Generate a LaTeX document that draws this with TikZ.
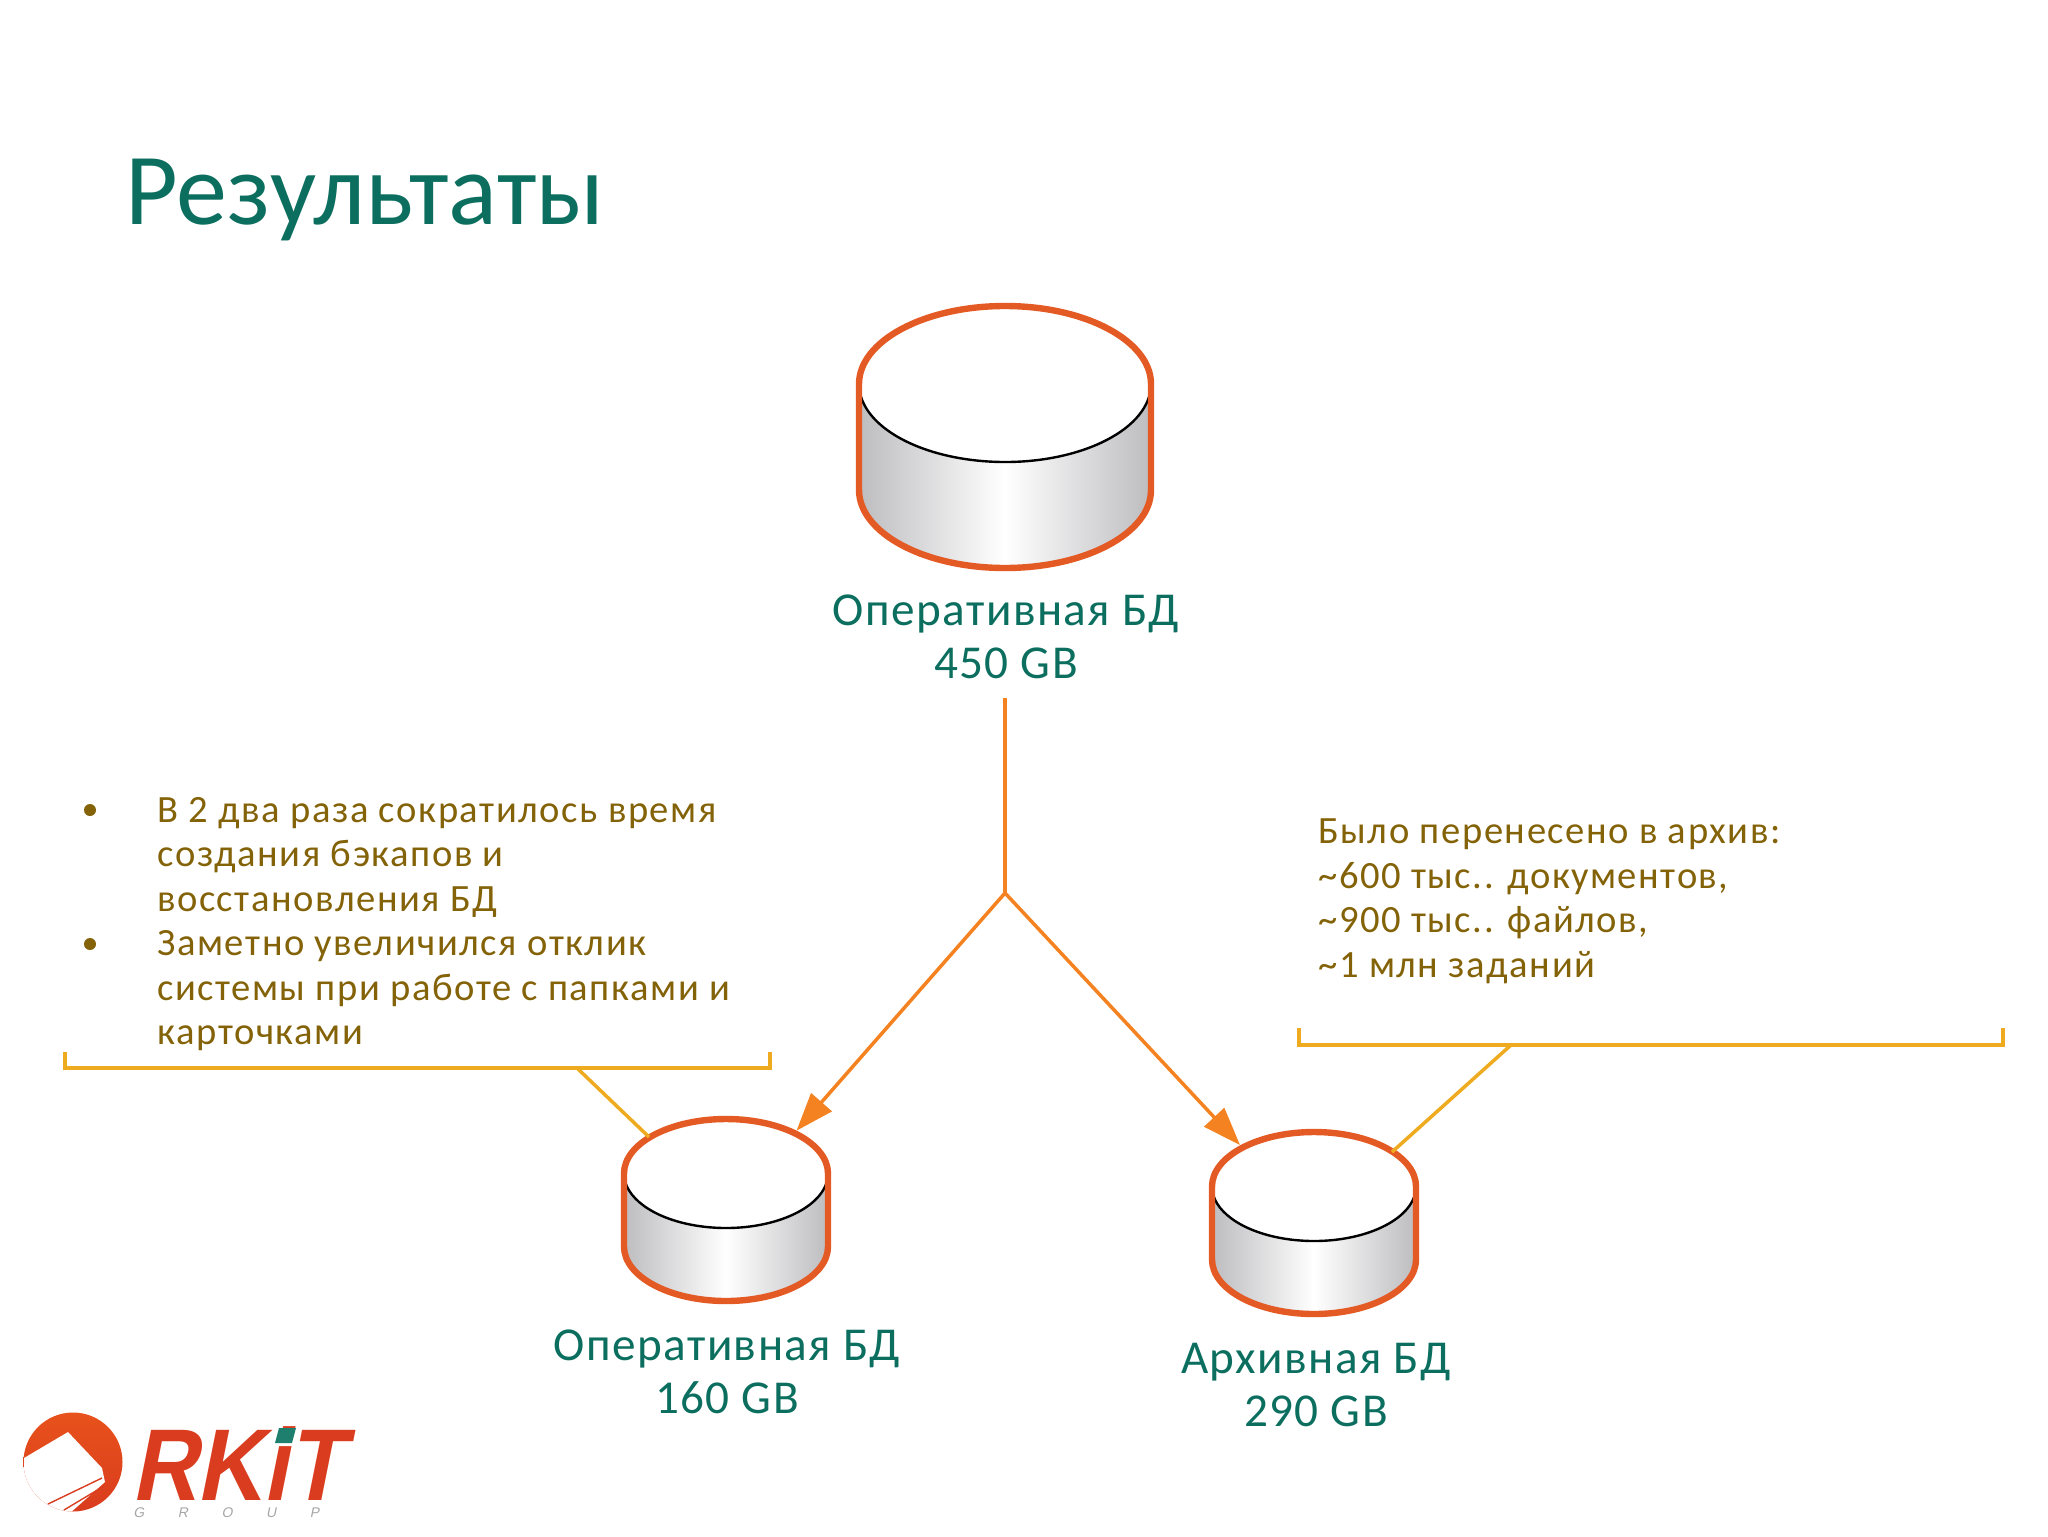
\documentclass[tikz,border=0pt]{standalone}
\usepackage{fontspec}
\usetikzlibrary{arrows.meta}
\setmainfont{Carlito}
\newfontfamily\titlefont{Carlito}
\newfontfamily\labelfont[LetterSpace=3]{Carlito}
\newfontfamily\bodyfont[LetterSpace=4]{Carlito}
\newfontfamily\logofont[FakeSlant=0.2,FakeStretch=0.89]{Liberation Sans Bold}
\newfontfamily\groupfont[FakeSlant=0.2,LetterSpace=240]{Liberation Sans}
\definecolor{cylorange}{HTML}{E45A24}
\definecolor{cylgray}{HTML}{BDBDC0}
\definecolor{linkorange}{HTML}{F58220}
\definecolor{bracketgold}{HTML}{EFAB1F}
\definecolor{titlegreen}{HTML}{0B6E5E}
\definecolor{bodybrown}{HTML}{836208}
\definecolor{logored}{HTML}{D93C1E}
\definecolor{logoorange}{HTML}{E8521B}
\definecolor{logoteal}{HTML}{1E7F6E}
\tikzset{
  title/.style={anchor=base west,inner sep=0pt,text=titlegreen,font=\titlefont\fontsize{51}{60}\selectfont},
  dblabel/.style={anchor=base,inner sep=0pt,align=center,text=titlegreen,font=\labelfont\fontsize{23.6}{26.5}\selectfont},
  bodytext/.style={anchor=base west,inner sep=0pt,align=left,text=bodybrown,font=\bodyfont\fontsize{19.3}{22.2}\selectfont},
  bulletmark/.style={inner sep=0pt,circle,fill=bodybrown,minimum size=6pt},
  link/.style={draw=linkorange,line width=1.75pt},
  linkarrow/.style={link,-{Triangle[length=19pt,width=13.5pt,fill=linkorange]}},
  bracket/.style={draw=bracketgold,line width=1.75pt},
}
% x y cy2 rx ry
\newcommand{\dbcyl}[5]{
  \shade[left color=cylgray,right color=cylgray,middle color=white]
    (#1+#4,#2) -- (#1+#4,#3) arc[start angle=0,end angle=180,x radius=#4,y radius=#5]
    -- (#1-#4,#2) -- cycle;
  \fill[white] (#1,#2) ellipse[x radius=#4,y radius=#5];
  \draw[black,line width=1.2pt] (#1,#2) ++(9:#4 and #5) arc[start angle=9,end angle=171,x radius=#4,y radius=#5];
  \draw[cylorange,line width=3.2pt] (#1-#4,#2) arc[start angle=180,end angle=360,x radius=#4,y radius=#5]
    -- (#1+#4,#3) arc[start angle=0,end angle=180,x radius=#4,y radius=#5] -- cycle;
}
\begin{document}
\begin{tikzpicture}[x=0.5pt,y=-0.5pt]
  \useasboundingbox (0,0) rectangle (2048,1536);
  \node[title] (heading) at (125,224) {Результаты};

  \dbcyl{1005}{384}{490}{146}{78}
  \dbcyl{726}{1173.5}{1246.5}{102}{54.5}
  \dbcyl{1314}{1186.5}{1259.5}{102}{54.5}

  \node[dblabel] (mainlabel) at (1006,678) {Оперативная БД\\450 GB};
  \node[dblabel] (oplabel) at (727,1413) {Оперативная БД\\160 GB};
  \node[dblabel] (archlabel) at (1316,1426) {Архивная БД\\290 GB};

  \coordinate (mainout) at (1005,698);
  \coordinate (split) at (1005,893);
  \coordinate (optip) at (796.5,1130.7);
  \coordinate (archtip) at (1240,1145);
  \draw[link] (mainout) -- (split);
  \draw[linkarrow] (split) -- (optip);
  \draw[linkarrow] (split) -- (archtip);

  \node[bulletmark] (bulleta) at (90,810) {};
  \node[bulletmark] (bulletb) at (90,944) {};
  \node[bodytext] (resulttext) at (157,1044.5) {В 2 два раза сократилось время\\создания бэкапов и\\восстановления БД\\Заметно увеличился отклик\\системы при работе с папками и\\карточками};
  \node[bodytext] (archtext) at (1318,977) {Было перенесено в архив:\\\textasciitilde600 тыс.. документов,\\\textasciitilde900 тыс.. файлов,\\\textasciitilde1 млн заданий};

  \coordinate (bl1) at (65,1052);
  \coordinate (bl2) at (65,1068);
  \coordinate (bl3) at (770,1068);
  \coordinate (bl4) at (770,1052);
  \coordinate (blstub) at (577,1068);
  \coordinate (blend) at (649,1137);
  \draw[bracket] (bl1) -- (bl2) -- (bl3) -- (bl4);
  \draw[bracket] (blstub) -- (blend);
  \coordinate (br1) at (1299,1028);
  \coordinate (br2) at (1299,1045);
  \coordinate (br3) at (2003,1045);
  \coordinate (br4) at (2003,1028);
  \coordinate (brstub) at (1511,1045);
  \coordinate (brend) at (1392,1152);
  \draw[bracket] (br1) -- (br2) -- (br3) -- (br4);
  \draw[bracket] (brstub) -- (brend);

  \begin{scope}
    \clip (73,1462) circle[radius=49.5];
    \shade[top color=logoorange,bottom color=logored] (23,1412) rectangle (123,1512);
    \fill[white] (24,1458) -- (68,1432) -- (102,1468) -- (105,1482) -- (70,1513) -- (24,1513) -- cycle;
    \draw[logored,line width=0.7pt] (48,1504) -- (102,1478);
    \draw[logored,line width=0.7pt] (64,1510) -- (104,1486);
  \end{scope}
  \node[anchor=base west,inner sep=0pt,text=logored,font=\logofont\fontsize{51}{51}\selectfont] (logoname) at (131,1500) {RKiT};
  \fill[logoteal] (279,1428) -- (296,1428) -- (292,1443) -- (275,1443) -- cycle;
  \node[anchor=base west,inner sep=0pt,text=gray!70,font=\groupfont\fontsize{7}{7}\selectfont] (logogroup) at (133,1517) {GROUP};
\end{tikzpicture}
\end{document}
